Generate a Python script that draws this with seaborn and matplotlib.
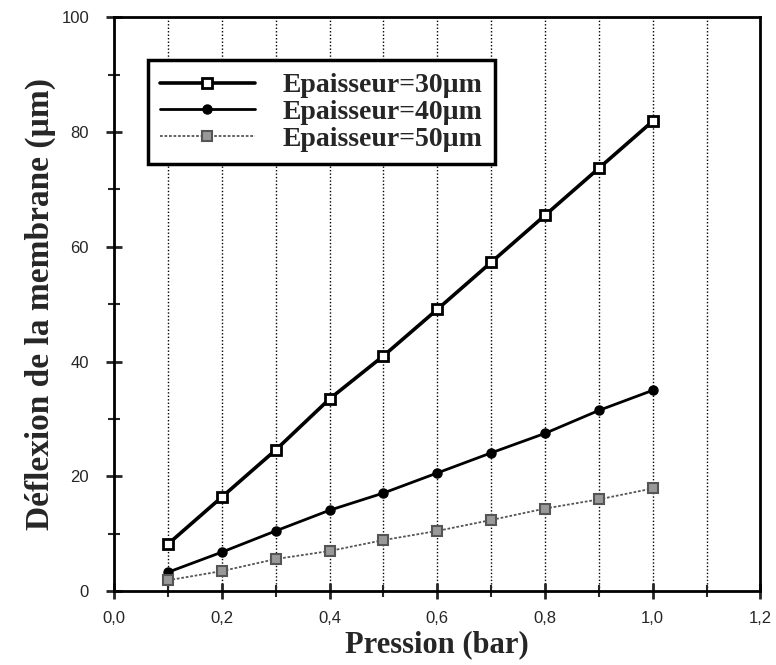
import numpy as np
import pandas as pd
import matplotlib
matplotlib.use("Agg")
import matplotlib.pyplot as plt
from matplotlib.ticker import MultipleLocator, FuncFormatter
import seaborn as sns

# Data
pression = [0.1, 0.2, 0.3, 0.4, 0.5, 0.6, 0.7, 0.8, 0.9, 1.0]
defl_30 = [8.2, 16.4, 24.6, 33.5, 41.0, 49.1, 57.3, 65.5, 73.7, 81.9]
defl_40 = [3.3, 6.8, 10.5, 14.1, 17.1, 20.6, 24.1, 27.5, 31.5, 35.0]
defl_50 = [1.9, 3.5, 5.6, 7.0, 8.9, 10.5, 12.4, 14.4, 16.0, 17.9]
labels = ["Epaisseur=30µm", "Epaisseur=40µm", "Epaisseur=50µm"]

sns.set_style("ticks")
plt.rcParams['font.family'] = ['Liberation Sans', 'DejaVu Sans']

fig = plt.figure(figsize=(7.76, 6.65), dpi=100)
ax = fig.add_axes([0.147, 0.111, 0.833, 0.863])

styles = [
    dict(color="black", lw=2.6, ls="-", marker="s", mfc="white", mec="black", ms=7, mew=2),
    dict(color="black", lw=2.0, ls="-", marker="o", mfc="black", mec="black", ms=6.5, mew=1),
    dict(color="#555555", lw=1.3, ls=(0, (1.5, 1)), marker="s", mfc="#999999", mec="#555555", ms=6.5, mew=1.5),
]
for y, lab, st in zip([defl_30, defl_40, defl_50], labels, styles):
    sns.lineplot(x=pression, y=y, ax=ax, label=lab, color=st["color"], linewidth=st["lw"],
                 linestyle=st["ls"], marker=st["marker"], markerfacecolor=st["mfc"],
                 markeredgecolor=st["mec"], markersize=st["ms"], markeredgewidth=st["mew"])

ax.set_xlim(0, 1.2)
ax.set_ylim(0, 100)
ax.xaxis.set_major_locator(MultipleLocator(0.2))
ax.xaxis.set_minor_locator(MultipleLocator(0.1))
ax.yaxis.set_major_locator(MultipleLocator(20))
ax.yaxis.set_minor_locator(MultipleLocator(10))
ax.xaxis.set_major_formatter(FuncFormatter(lambda v, p: f"{v:.1f}".replace(".", ",")))
ax.grid(True, axis="x", which="both", color="black", linestyle=(0, (1, 1.5)), linewidth=1.0)
ax.tick_params(axis="both", which="major", direction="inout", length=12, width=2, labelsize=12)
ax.tick_params(axis="x", which="major", pad=8)
ax.tick_params(axis="y", which="major", pad=12)
ax.tick_params(axis="both", which="minor", direction="inout", length=8, width=1.5)
for s in ax.spines.values():
    s.set_linewidth(2)
    s.set_color("black")

ax.set_xlabel("Pression (bar)", labelpad=3, family="Liberation Serif", fontweight="bold", fontsize=22)
ax.set_ylabel("Déflexion de la membrane (µm)", labelpad=4, family="Liberation Serif",
              fontweight="bold", fontsize=24)

leg = ax.legend(loc="upper left", bbox_to_anchor=(0.052, 0.925), borderaxespad=0, handlelength=3.4,
                handletextpad=1.0, labelspacing=0.05, borderpad=0.45, frameon=True,
                fancybox=False, prop=dict(family="Liberation Serif", weight="bold", size=20))
leg.get_frame().set_edgecolor("black")
leg.get_frame().set_linewidth(2.5)
leg.get_frame().set_alpha(1)

fig.savefig("out.png", dpi=100)
